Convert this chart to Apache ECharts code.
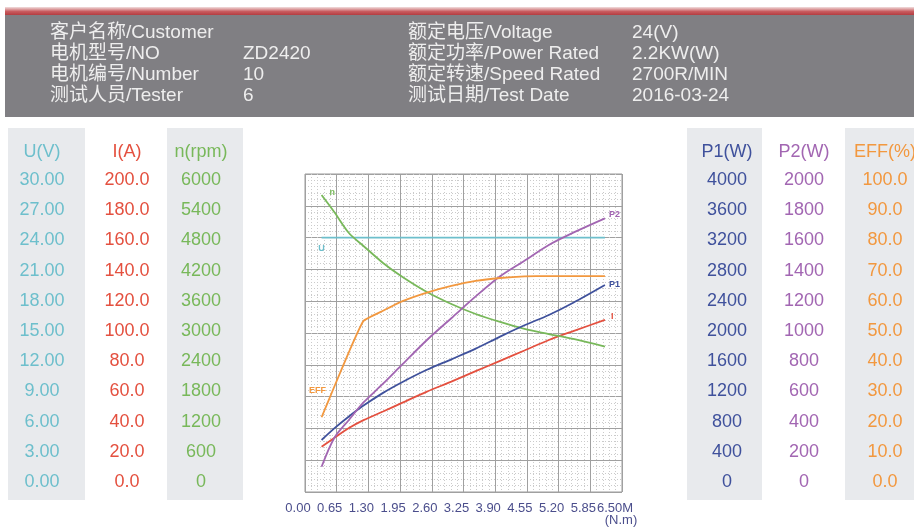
<!DOCTYPE html>
<html>
<head>
<meta charset="utf-8">
<script src="https://cdn.jsdelivr.net/npm/echarts@6/dist/echarts.min.js"></script>
<style>
html,body{margin:0;padding:0;background:#fff;}
#chart{width:914px;height:527px;}
</style>
</head>
<body>
<div id="chart"></div>
<script>
// ---------- data ----------
const TORQUE = [0.34, 0.6, 0.9, 1.2, 1.6, 2.0, 2.5, 3.0, 3.5, 4.0, 4.5, 5.0, 5.5, 6.15];
const SPEED_N = [5604, 5283, 4887, 4642, 4321, 4057, 3774, 3548, 3359, 3208, 3076, 2981, 2887, 2745];
const VOLT_U = [24, 24, 24, 24, 24, 24, 24, 24, 24, 24, 24, 24, 24, 24];
const CURRENT_I = [28.5, 34.0, 40.2, 45.2, 50.6, 56.2, 63.1, 69.4, 76.0, 82.5, 89.0, 95.6, 101.2, 108.2];
const P1_W = [654, 800, 950, 1087, 1247, 1384, 1537, 1669, 1803, 1955, 2097, 2227, 2381, 2604];
const P2_W = [159, 340, 453, 563, 681, 804, 956, 1093, 1230, 1357, 1455, 1554, 1631, 1721];
const EFF_PCT = [23.5, 33.1, 44.0, 53.8, 57.0, 60.0, 62.7, 64.8, 66.4, 67.3, 67.8, 67.9, 67.9, 67.9];

const X_TICKS = ['0.00','0.65','1.30','1.95','2.60','3.25','3.90','4.55','5.20','5.85','6.50M'];
const U_TICKS = ['0.00','3.00','6.00','9.00','12.00','15.00','18.00','21.00','24.00','27.00','30.00'];
const I_TICKS = ['0.0','20.0','40.0','60.0','80.0','100.0','120.0','140.0','160.0','180.0','200.0'];
const N_TICKS = ['0','600','1200','1800','2400','3000','3600','4200','4800','5400','6000'];
const P1_TICKS = ['0','400','800','1200','1600','2000','2400','2800','3200','3600','4000'];
const P2_TICKS = ['0','200','400','600','800','1000','1200','1400','1600','1800','2000'];
const EFF_TICKS = ['0.0','10.0','20.0','30.0','40.0','50.0','60.0','70.0','80.0','90.0','100.0'];

const HEADER_LEFT = [['客户名称/Customer',''],['电机型号/NO','ZD2420'],['电机编号/Number','10'],['测试人员/Tester','6']];
const HEADER_RIGHT = [['额定电压/Voltage','24(V)'],['额定功率/Power Rated','2.2KW(W)'],['额定转速/Speed Rated','2700R/MIN'],['测试日期/Test Date','2016-03-24']];

// ---------- styling ----------
const C = {U:'#6dbfcc', I:'#e4503f', n:'#78b85a', P1:'#3f519c', P2:'#a266b2', EFF:'#f2983f'};
const LAB_FONT = 'Liberation Sans, Noto Sans CJK SC, sans-serif';

const chart = echarts.init(document.getElementById('chart'), null, {renderer:'canvas'});

function mkData(vals, labelIdx, labelCfg){
  return TORQUE.map((t,i)=>{
    const d = {value:[t, vals[i]]};
    if (i === labelIdx) d.label = Object.assign({show:true, fontSize:9, fontWeight:'bold', fontFamily:LAB_FONT}, labelCfg);
    return d;
  });
}
function lineSeries(name, vals, yIdx, color, labelIdx, labelCfg, smooth){
  return {
    name, type:'line', xAxisIndex:0, yAxisIndex:yIdx,
    data: mkData(vals, labelIdx, Object.assign({color}, labelCfg)),
    symbol:'circle', symbolSize:0, showSymbol:true, smooth:smooth,
    lineStyle:{color, width:1.8}, itemStyle:{color},
    silent:true, z:5, animation:false
  };
}

// label columns: each in its own thin grid centred on the column
const COLS = [
  {cx:42,  max:30,   ticks:U_TICKS,   name:'U(V)',   color:C.U},
  {cx:127, max:200,  ticks:I_TICKS,   name:'I(A)',   color:C.I},
  {cx:201, max:6000, ticks:N_TICKS,   name:'n(rpm)', color:C.n},
  {cx:727, max:4000, ticks:P1_TICKS,  name:'P1(W)',  color:C.P1},
  {cx:804, max:2000, ticks:P2_TICKS,  name:'P2(W)',  color:C.P2},
  {cx:885, max:100,  ticks:EFF_TICKS, name:'EFF(%)', color:C.EFF}
];

const grids = [{left:305, top:174, width:317, height:318, show:true, borderColor:'#9a9a9a', borderWidth:1}];
const xAxes = [{type:'value', gridIndex:0, min:0, max:6.5, interval:0.65,
  axisLine:{show:false}, axisTick:{show:false},
  axisLabel:{margin:10, color:'#4b4e8c', fontSize:13, fontFamily:'Liberation Sans Narrow, Liberation Sans, sans-serif',
    padding:[0,14,0,0], formatter:(v)=>X_TICKS[Math.round(v/0.65)]},
  splitLine:{show:true, lineStyle:{color:'#a0a0a0', width:1}},
  minorTick:{show:false, splitNumber:5},
  minorSplitLine:{show:true, lineStyle:{color:'#cbcbcb', width:1, type:[1,2]}}}];
const yAxes = [
  {type:'value', gridIndex:0, min:0, max:30, interval:3,
   axisLine:{show:false}, axisTick:{show:false}, axisLabel:{show:false},
   splitLine:{show:true, lineStyle:{color:'#a0a0a0', width:1}},
   minorTick:{show:false, splitNumber:5},
   minorSplitLine:{show:true, lineStyle:{color:'#cbcbcb', width:1, type:[1,2]}}},
  {type:'value', gridIndex:0, min:0, max:200, show:false},
  {type:'value', gridIndex:0, min:0, max:6000, show:false},
  {type:'value', gridIndex:0, min:0, max:4000, show:false},
  {type:'value', gridIndex:0, min:0, max:2000, show:false},
  {type:'value', gridIndex:0, min:0, max:100, show:false}
];
COLS.forEach((c,k)=>{
  const gi = k+1;
  grids.push({left:c.cx, top:180, width:1, height:302, show:false});
  xAxes.push({type:'value', gridIndex:gi, min:0, max:1, show:false});
  yAxes.push({
    type:'value', gridIndex:gi, position:'left', min:0, max:c.max, interval:c.max/10,
    name:c.name, nameLocation:'end', nameGap:28,
    nameTextStyle:{color:c.color, fontSize:18, fontFamily:LAB_FONT, align:'center', verticalAlign:'middle'},
    axisLine:{show:false}, axisTick:{show:false}, splitLine:{show:false},
    axisLabel:{show:true, margin:0, align:'center', color:c.color, fontSize:18, fontFamily:LAB_FONT,
      formatter:(v)=>c.ticks[Math.round(v/(c.max/10))]}
  });
});

const graphics = [];
graphics.push({type:'rect', shape:{x:5,y:7,width:909,height:9}, style:{fill:new echarts.graphic.LinearGradient(0,0,0,1,[{offset:0,color:'#f1dede'},{offset:0.5,color:'#c85c5f'},{offset:1,color:'#ae3438'}])}, silent:true});
graphics.push({type:'rect', shape:{x:5,y:15,width:909,height:102}, style:{fill:'#807f83'}, silent:true});
const HY = [33, 54, 75, 96];
const HFONT = '19px Liberation Sans, Noto Sans CJK SC, sans-serif';
HEADER_LEFT.forEach((r,i)=>{
  graphics.push({type:'text', x:50, y:HY[i], style:{text:r[0], fill:'#eeeeee', font:HFONT, textVerticalAlign:'middle'}, silent:true});
  graphics.push({type:'text', x:243, y:HY[i], style:{text:r[1], fill:'#eeeeee', font:HFONT, textVerticalAlign:'middle'}, silent:true});
});
HEADER_RIGHT.forEach((r,i)=>{
  graphics.push({type:'text', x:408, y:HY[i], style:{text:r[0], fill:'#eeeeee', font:HFONT, textVerticalAlign:'middle'}, silent:true});
  graphics.push({type:'text', x:632, y:HY[i], style:{text:r[1], fill:'#eeeeee', font:HFONT, textVerticalAlign:'middle'}, silent:true});
});
[[8,77],[167,76],[687,75],[845,69]].forEach(c=>{
  graphics.push({type:'rect', z:-10, shape:{x:c[0],y:128,width:c[1],height:372}, style:{fill:'#e8eaed'}, silent:true});
});
graphics.push({type:'text', x:621, y:520, style:{text:'(N.m)', fill:'#4b4e8c', font:'13px Liberation Sans Narrow, Liberation Sans, sans-serif', textAlign:'center', textVerticalAlign:'middle'}, silent:true});

const option = {
  backgroundColor:'#ffffff',
  animation:false,
  graphic: graphics,
  grid: grids,
  xAxis: xAxes,
  yAxis: yAxes,
  series:[
    lineSeries('U', VOLT_U, 0, C.U, 0, {formatter:'U', position:'bottom', distance:6}, 0),
    lineSeries('I', CURRENT_I, 1, C.I, TORQUE.length-1, {formatter:'I', position:'right', distance:6, offset:[0,-3]}, 0.3),
    lineSeries('n', SPEED_N, 2, C.n, 0, {formatter:'n', position:'right', distance:8, offset:[0,-2]}, 0.3),
    lineSeries('P1', P1_W, 3, C.P1, TORQUE.length-1, {formatter:'P1', position:'right', distance:4}, 0.3),
    lineSeries('P2', P2_W, 4, C.P2, TORQUE.length-1, {formatter:'P2', position:'right', distance:4, offset:[0,-4]}, 0.3),
    lineSeries('EFF', EFF_PCT, 5, C.EFF, 0, {formatter:'EFF', position:'top', distance:22, offset:[-4,0]}, 0.12)
  ]
};
chart.setOption(option);
</script>
</body>
</html>
